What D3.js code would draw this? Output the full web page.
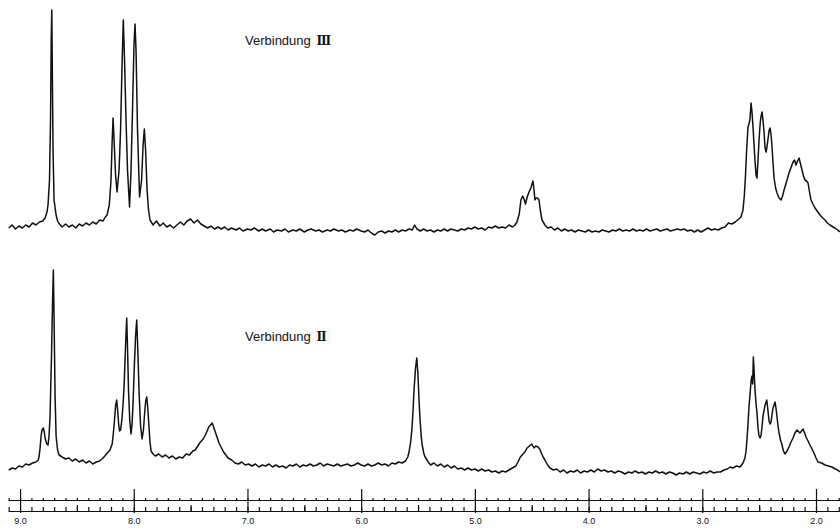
<!DOCTYPE html>
<html>
<head>
<meta charset="utf-8">
<script src="https://cdn.jsdelivr.net/npm/d3@7"></script>
<style>
  body { margin: 0; background: #fff; }
  .trace { fill: none; stroke: #111; stroke-width: 1.5; stroke-linejoin: round; }
  .axis path, .axis line { stroke: #111; stroke-width: 1.2; }
  .axis text { font-family: "Liberation Sans", Arial, sans-serif; font-size: 9px; fill: #111; }
  .label { font-family: "Liberation Sans", Arial, sans-serif; font-size: 13px; fill: #111; }
  .numeral { font-family: "DejaVu Serif", serif; font-weight: bold; font-size: 12px; }
</style>
</head>
<body>
<script>
// chemical shift (ppm) and intensity (arbitrary units)

// Verbindung III (upper trace)
var topAromatic = [
  [9.10,2],[9.07,5],[9.04,1],[9.01,4],[8.98,2],[8.95,5],[8.92,3],[8.89,7],[8.86,5],[8.83,8],[8.80,9],[8.78,12],
  [8.763,18],[8.754,25],[8.741,50],[8.732,110],[8.726,190],[8.721,220],[8.717,170],[8.710,80],[8.701,30],
  [8.683,15],[8.67,9],[8.66,7],
  [8.63,3],[8.60,6],[8.57,3],[8.54,5],[8.51,2],[8.48,6],[8.45,4],[8.42,7],[8.39,5],[8.36,8],[8.33,6],[8.30,10],
  [8.27,9],[8.25,13],[8.235,15],[8.215,25],[8.200,50],[8.191,85],[8.182,112],[8.173,90],[8.160,55],[8.147,38],
  [8.129,60],[8.116,100],[8.103,165],[8.092,210],[8.081,170],[8.068,110],[8.055,60],[8.037,23],
  [8.024,60],[8.011,120],[7.998,185],[7.989,206],[7.980,180],[7.967,100],[7.949,33],
  [7.931,50],[7.918,85],[7.907,101],[7.896,80],[7.883,40],[7.870,20],[7.857,10],[7.83,5],[7.80,9],[7.77,4],[7.74,7],
  [7.71,3],[7.68,5],[7.65,2],[7.62,5],[7.59,8],[7.56,5],[7.53,9],[7.50,11],[7.47,7],[7.44,10],[7.41,6],
  [7.38,4],[7.35,2],[7.32,4],[7.29,1],[7.26,3],[7.23,1],[7.20,3],[7.17,0],[7.14,2]
];
var topMiddle = [
  [7.10,0],[7.07,2],[7.04,-1],[7.00,1],[6.97,0],[6.94,2],[6.90,-1],[6.87,1],[6.84,-1],[6.80,1],[6.77,-2],
  [6.74,0],[6.70,-1],[6.67,1],[6.64,-2],[6.60,0],[6.57,-1],[6.54,1],[6.50,-2],[6.47,0],[6.44,1],[6.40,-1],
  [6.37,0],[6.34,-2],[6.30,0],[6.27,-1],[6.24,1],[6.20,-1],[6.17,0],[6.14,-2],[6.10,0],[6.07,-1],[6.04,1],
  [6.00,-1],[5.97,-2],[5.94,0],[5.91,-3],[5.88,-5],[5.85,-2],[5.82,-1],[5.79,-3],[5.76,-1],[5.73,-2],
  [5.70,0],[5.67,-2],[5.64,0],[5.61,-1],[5.58,1],[5.55,0],[5.53,5],[5.51,1],[5.48,-1],[5.45,1],[5.42,-1],
  [5.39,0],[5.36,-2],[5.33,0],[5.30,-1],[5.27,1],[5.24,-1],[5.21,1],[5.18,0],[5.15,-1],[5.12,1],[5.09,0],
  [5.06,2],[5.03,1],[5.00,3],[4.97,1],[4.94,2],[4.91,0],[4.88,3],[4.85,2],[4.82,4],[4.79,2],[4.76,3],
  [4.73,2],[4.70,5],[4.67,3],[4.647,5],[4.630,8],[4.610,16],[4.595,30],[4.580,34],[4.568,31],[4.555,26],
  [4.540,33],[4.524,38],[4.507,42],[4.495,47],[4.489,49],[4.480,40],[4.472,30],[4.462,32],[4.450,32],
  [4.436,30],[4.425,20],[4.410,10],[4.384,5],[4.36,2],[4.33,3],[4.30,0],[4.27,2],
  [4.24,-1],[4.21,1],[4.18,-1],[4.15,0],[4.12,-2],[4.09,0],[4.06,-1],[4.03,-2],[4.00,0],[3.97,-2],[3.94,-1],
  [3.91,-2],[3.88,0],[3.85,-1],[3.82,-2],[3.79,0],[3.76,-1],[3.73,1],[3.70,-1],[3.67,0],[3.64,-1],[3.61,1],
  [3.58,-1],[3.55,0],[3.52,-1],[3.49,1],[3.46,-1],[3.43,0],[3.40,1],[3.37,-1],[3.34,0],[3.31,1],[3.28,-1],
  [3.25,0],[3.22,1],[3.19,0],[3.16,1],[3.13,-1],[3.10,0],[3.07,-2],[3.04,0],[3.01,-2],[2.98,0],[2.95,2]
];
var topAliphatic = [
  [2.92,0],[2.89,1],[2.86,0],[2.83,2],[2.80,3],[2.77,7],[2.74,6],[2.71,8],[2.68,11],[2.66,13],[2.642,20],
  [2.630,35],[2.620,55],[2.610,80],[2.598,103],[2.585,108],[2.580,112],[2.571,127],[2.563,118],[2.554,103],
  [2.545,85],[2.536,68],[2.527,55],[2.519,52],[2.510,70],[2.501,90],[2.490,108],[2.483,114],[2.474,118],
  [2.465,108],[2.457,98],[2.448,82],[2.439,78],[2.430,84],[2.421,92],[2.412,100],[2.404,102],[2.395,95],
  [2.386,82],[2.377,65],[2.369,52],[2.355,42],[2.343,37],[2.325,32],[2.307,30],[2.294,34],[2.281,40],
  [2.268,45],[2.255,50],[2.240,56],[2.228,60],[2.215,64],[2.202,68],[2.189,70],[2.176,65],[2.162,69],
  [2.149,72],[2.136,66],[2.123,60],[2.110,54],[2.097,50],[2.083,49],[2.070,47],[2.057,38],[2.044,30],
  [2.027,26],[2.009,22],[1.99,19],[1.965,15],[1.94,12],[1.921,10],[1.90,7],[1.877,5],
  [1.85,3],[1.833,2],[1.81,0],[1.79,-2]
];

// Verbindung II (lower trace)
var bottomAromatic = [
  [9.10,-4],[9.07,-2],[9.04,-3],[9.01,0],[8.98,-1],[8.95,2],[8.92,1],[8.89,3],[8.86,4],[8.84,6],[8.832,10],
  [8.824,18],[8.815,30],[8.807,36],[8.795,38],[8.787,34],[8.780,28],[8.765,22],[8.754,21],[8.745,30],
  [8.736,50],[8.730,80],[8.723,112],[8.714,165],[8.707,196],[8.701,150],[8.692,70],[8.683,30],
  [8.670,16],[8.657,11],[8.63,9],[8.60,7],[8.57,8],[8.54,5],[8.51,7],[8.48,4],[8.45,6],[8.42,3],
  [8.39,5],[8.36,2],[8.33,4],[8.30,5],[8.27,8],[8.24,12],[8.209,16],[8.19,22],[8.180,32],[8.170,45],
  [8.160,60],[8.150,66],[8.142,56],[8.133,42],[8.125,35],[8.116,36],[8.105,46],[8.095,60],[8.085,80],
  [8.074,115],[8.062,148],[8.053,110],[8.046,75],[8.035,45],[8.024,32],[8.015,42],[8.006,63],[7.995,100],
  [7.984,130],[7.974,146],[7.964,115],[7.953,73],[7.940,40],[7.927,27],[7.915,36],[7.905,52],[7.895,65],
  [7.886,69],[7.878,60],[7.870,46],[7.858,25],[7.848,15],[7.83,12],[7.81,10],
  [7.78,12],[7.75,9],[7.72,11],[7.69,8],[7.66,10],[7.63,7],[7.60,9],[7.57,8],[7.54,12],[7.51,11],[7.48,15],
  [7.46,16],[7.42,23],[7.39,27],[7.37,31],[7.34,39],[7.31,43],[7.28,33],[7.25,23],[7.21,14],[7.17,8],
  [7.14,6],[7.11,3]
];
var bottomMiddle = [
  [7.08,2],[7.05,4],[7.02,1],[6.99,2],[6.96,0],[6.93,2],[6.90,-1],[6.87,1],[6.84,0],[6.81,2],[6.78,-1],
  [6.75,1],[6.72,-1],[6.69,0],[6.66,-2],[6.63,1],[6.60,0],[6.57,2],[6.54,-1],[6.51,1],[6.48,0],[6.45,2],
  [6.42,0],[6.39,1],[6.36,3],[6.33,0],[6.30,2],[6.27,1],[6.24,0],[6.21,2],[6.18,0],[6.15,1],[6.12,2],
  [6.09,0],[6.06,1],[6.03,3],[6.00,1],[5.97,0],[5.94,2],[5.91,0],[5.88,1],[5.85,3],[5.82,1],[5.79,2],
  [5.76,0],[5.73,3],[5.70,2],[5.67,4],[5.64,3],[5.61,5],[5.59,9],[5.579,14],[5.565,24],[5.553,38],
  [5.544,55],[5.535,76],[5.522,98],[5.511,108],[5.500,90],[5.491,65],[5.482,46],[5.472,30],[5.465,22],
  [5.450,13],[5.438,9],[5.41,4],[5.39,1],[5.36,3],[5.33,0],[5.30,2],[5.27,-1],
  [5.24,1],[5.21,-2],[5.18,0],[5.15,-3],[5.12,-2],[5.09,-4],[5.06,-2],[5.03,-4],[5.00,-3],[4.97,-5],
  [4.94,-3],[4.91,-5],[4.88,-4],[4.85,-6],[4.82,-5],[4.79,-7],[4.76,-5],[4.73,-6],[4.70,-4],[4.67,-2],
  [4.64,0],[4.621,4],[4.600,9],[4.585,11],[4.560,14],[4.541,18],[4.52,20],[4.500,22],[4.480,18],[4.465,20],
  [4.445,19],[4.430,17],[4.419,14],[4.400,9],[4.384,6],[4.36,1],[4.339,-2],[4.31,-4],[4.28,-3],[4.25,-6],
  [4.22,-4],[4.19,-7],
  [4.16,-5],[4.13,-6],[4.10,-4],[4.07,-7],[4.04,-5],[4.01,-6],[3.98,-4],[3.95,-6],[3.92,-3],[3.89,-5],
  [3.86,-4],[3.83,-6],[3.80,-5],[3.77,-7],[3.74,-5],[3.71,-6],[3.68,-8],[3.65,-6],[3.62,-7],[3.59,-5],
  [3.56,-7],[3.53,-6],[3.50,-8],[3.47,-6],[3.44,-7],[3.41,-5],[3.38,-7],[3.35,-6],[3.32,-8],[3.29,-6],
  [3.26,-7],[3.23,-9],[3.20,-7],[3.17,-8],[3.14,-6],[3.11,-8],[3.08,-6],[3.05,-7],[3.02,-8],[2.99,-6],
  [2.96,-7]
];
var bottomAliphatic = [
  [2.93,-5],[2.90,-7],[2.87,-6],[2.84,-6],[2.81,-4],[2.78,-3],[2.756,-1],[2.73,-2],[2.70,0],[2.668,-1],
  [2.642,3],[2.625,8],[2.615,15],[2.605,30],[2.598,42],[2.589,60],[2.580,72],[2.571,85],[2.563,90],
  [2.557,82],[2.551,109],[2.545,96],[2.536,75],[2.527,62],[2.519,53],[2.510,38],[2.501,30],[2.492,28],
  [2.483,31],[2.474,40],[2.466,50],[2.450,60],[2.433,66],[2.423,56],[2.413,45],[2.404,42],[2.395,44],
  [2.386,52],[2.378,58],[2.360,64],[2.351,57],[2.343,49],[2.334,40],[2.325,33],[2.312,26],[2.299,21],
  [2.286,15],[2.273,12],[2.255,15],[2.238,19],[2.220,24],[2.202,28],[2.185,33],[2.167,36],[2.141,33],
  [2.114,37],[2.100,33],[2.088,29],[2.070,25],[2.053,21],[2.035,17],[2.018,13],[2.000,8],[1.982,4],
  [1.95,3],[1.921,1],[1.89,0],[1.86,-1],[1.83,-3],[1.81,-4],[1.79,-6]
];

// axis labels and trace captions
var majorTicks = [9, 8, 7, 6, 5, 4, 3, 2];
var halfTicks = [8.5, 7.5, 6.5, 5.5, 4.5, 3.5, 2.5];
var captions = [
  { name: "Verbindung", numeral: "\u2162", trace: "top" },
  { name: "Verbindung", numeral: "\u2161", trace: "bottom" }
];

function main() {
  var width = 840, height = 530;

  var svg = d3.select("body").append("svg")
    .attr("width", width)
    .attr("height", height);

  svg.append("rect").attr("width", width).attr("height", height).attr("fill", "#fff");

  // ppm runs right to left
  var xScale = d3.scaleLinear().domain([9.106, 1.789]).range([8, 840]);
  var yTop = d3.scaleLinear().domain([0, 220]).range([230, 10]);
  var yBottom = d3.scaleLinear().domain([0, 220]).range([466, 246]);

  var topTrace = topAromatic.concat(topMiddle, topAliphatic);
  var bottomTrace = bottomAromatic.concat(bottomMiddle, bottomAliphatic);

  var lineTop = d3.line()
    .x(function(d) { return xScale(d[0]); })
    .y(function(d) { return yTop(d[1]); });
  var lineBottom = d3.line()
    .x(function(d) { return xScale(d[0]); })
    .y(function(d) { return yBottom(d[1]); });

  svg.append("path").datum(topTrace).attr("class", "trace").attr("d", lineTop);
  svg.append("path").datum(bottomTrace).attr("class", "trace").attr("d", lineBottom);

  // captions
  var capY = { top: 45, bottom: 341 };
  captions.forEach(function(c) {
    var t = svg.append("text").attr("class", "label")
      .attr("x", 245).attr("y", capY[c.trace]);
    t.append("tspan").text(c.name + " ");
    t.append("tspan").attr("class", "numeral").attr("dx", 2).text(c.numeral);
  });

  // ppm scale: double rule with minor ticks
  var minorTicks = d3.range(18, 92).map(function(d) { return d / 10; });

  svg.append("g").attr("class", "axis")
    .attr("transform", "translate(0,500)")
    .call(d3.axisTop(xScale).tickValues(minorTicks).tickSize(2).tickSizeOuter(0).tickFormat(""));

  svg.append("g").attr("class", "axis")
    .attr("transform", "translate(0,511)")
    .call(d3.axisTop(xScale).tickValues(minorTicks).tickSize(4).tickSizeOuter(0).tickFormat(""));

  svg.append("g").attr("class", "axis")
    .attr("transform", "translate(0,511)")
    .call(d3.axisTop(xScale).tickValues(halfTicks).tickSize(6).tickFormat(""))
    .select(".domain").remove();

  var major = svg.append("g").attr("class", "axis")
    .attr("transform", "translate(0,489)")
    .call(d3.axisBottom(xScale).tickValues(majorTicks).tickSize(24).tickPadding(5)
      .tickFormat(d3.format(".1f")));
  major.select(".domain").remove();
  major.selectAll("line").attr("stroke-width", 1.6);
}

main();
</script>
</body>
</html>
